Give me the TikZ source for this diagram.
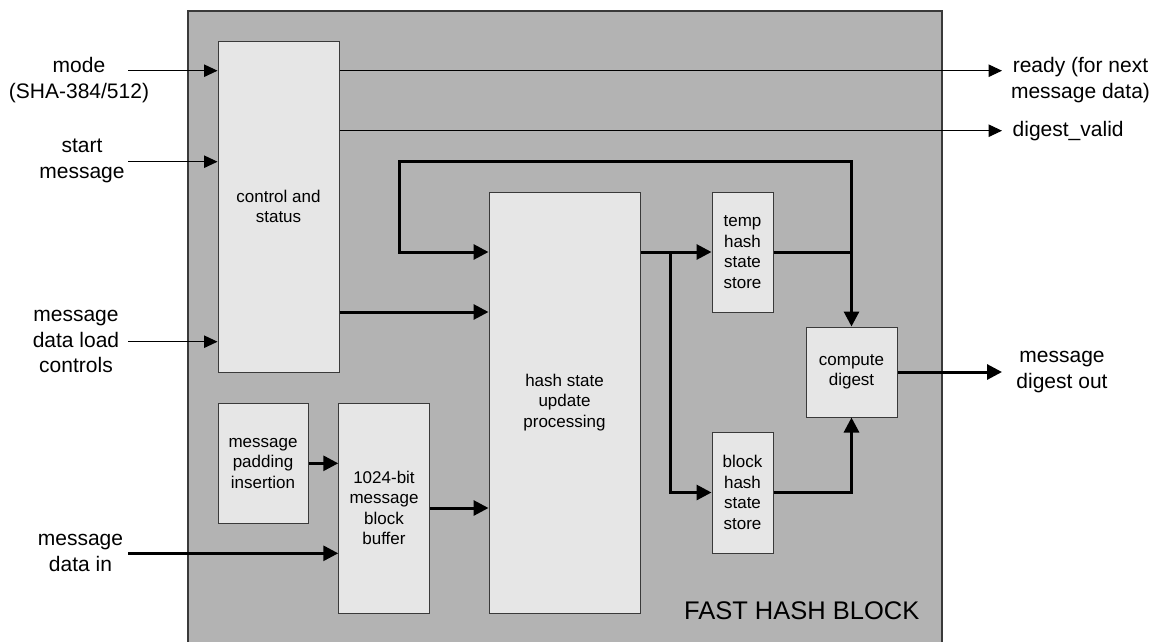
\documentclass[tikz,border=0pt]{standalone}
\usepackage{fontspec}
\setmainfont{Liberation Sans}
\usetikzlibrary{arrows.meta}
\definecolor{outerfill}{HTML}{B3B3B3}
\definecolor{boxfill}{HTML}{E6E6E6}
\definecolor{edge}{HTML}{3A3A3A}
\tikzset{
  blk/.style={draw=edge, line width=1pt, fill=boxfill, inner sep=0pt, align=center,
    font=\fontsize{17}{20.5}\selectfont},
  lbl/.style={align=center, inner sep=0pt, font=\fontsize{21}{25.5}\selectfont},
  sig/.style={line width=1pt, -{Triangle[length=13.5pt,width=12.5pt]}},
  bus/.style={line width=3pt, -{Triangle[length=15pt,width=15pt]}},
  busn/.style={line width=3pt},
}
\begin{document}
\begin{tikzpicture}[x=1pt,y=-1pt]
\useasboundingbox (0,0) rectangle (1151,641);
% outer block
\draw[edge, line width=1.3pt, fill=outerfill] (188,11) rectangle (942,670);
\node[font=\fontsize{25.5}{30}\selectfont, inner sep=0pt] (title) at (801.7,611) {FAST HASH BLOCK};
% boxes
\node[blk, minimum width=121pt, minimum height=331pt] (ctrl) at (278.5,206.5) {control and\\status};
\node[blk, minimum width=151pt, minimum height=421pt] (hash) at (564.5,402.5) {hash state\\update\\processing};
\node[blk, minimum width=61pt, minimum height=120pt] (temp) at (742.5,252) {temp\\hash\\state\\store};
\node[blk, minimum width=61pt, minimum height=121pt] (block) at (742.5,492.5) {block\\hash\\state\\store};
\node[blk, minimum width=91pt, minimum height=90pt] (comp) at (851.5,372) {compute\\digest};
\node[blk, minimum width=90pt, minimum height=120pt] (pad) at (263,463) {message\\padding\\insertion};
\node[blk, minimum width=90.5pt, minimum height=210pt] (buf) at (384,508) {1024-bit\\message\\block\\buffer};
% outside labels
\node[lbl] (lmode) at (79,80) {mode\\(SHA-384/512)};
\node[lbl] (lstart) at (82,161) {start\\message};
\node[lbl] (lload) at (76,341.5) {message\\data load\\controls};
\node[lbl] (ldata) at (80.5,553) {message\\data in};
\node[lbl] (lready) at (1080.5,80) {ready (for next\\message data)};
\node[lbl, anchor=west] (ldv) at (1012.5,131) {digest\_valid};
\node[lbl] (lout) at (1062,372) {message\\digest out};
% coordinates
\coordinate (modeS) at (128,70.7);
\coordinate (startS) at (128,161.7);
\coordinate (loadS) at (128,341.7);
\coordinate (dataS) at (128,553.3);
\coordinate (readyE) at (1002,70.7);
\coordinate (dvE) at (1002,130.7);
\coordinate (outE) at (1002,372);
\coordinate (cth) at (0,312);
\coordinate (pb) at (0,463.3);
\coordinate (br) at (670.7,252);
\coordinate (fbTop) at (851.5,161);
\coordinate (fbL) at (399,161);
% control signals
\draw[sig] (modeS) -- (modeS -| ctrl.west);
\draw[sig] (startS) -- (startS -| ctrl.west);
\draw[sig] (loadS) -- (loadS -| ctrl.west);
\draw[sig] (ctrl.east |- readyE) -- (readyE);
\draw[sig] (ctrl.east |- dvE) -- (dvE);
% data paths
\draw[bus] (dataS) -- (dataS -| buf.west);
\draw[bus] (ctrl.east |- cth) -- (hash.west |- cth);
\draw[bus] (pad.east |- pb) -- (buf.west |- pb);
\draw[bus] (buf.east) -- (buf.east -| hash.west);
\draw[bus] (temp.west -| hash.east) -- (temp.west);
\draw[bus] (br) |- (block.west);
\draw[bus] (temp.east) -| (comp.north);
\draw[bus] (comp.north |- temp.east) -- (fbTop) -- (fbL) |- (temp.west -| hash.west);
\draw[bus] (block.east) -| (comp.south);
\draw[bus] (comp.east) -- (outE);
\end{tikzpicture}
\end{document}
